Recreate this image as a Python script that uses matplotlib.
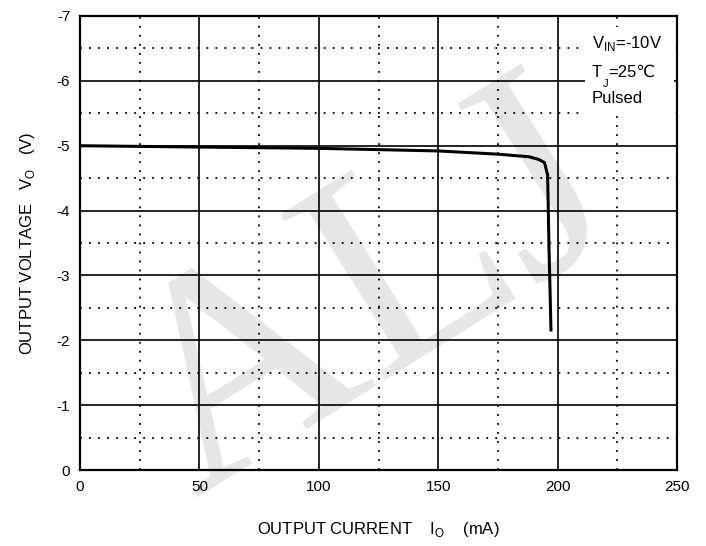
import numpy as np
import matplotlib.pyplot as plt
from matplotlib.ticker import MultipleLocator

plt.rcParams['font.family'] = ['Liberation Sans', 'DejaVu Sans']
plt.rcParams['axes.unicode_minus'] = False

# Data
current_ma = [0, 50, 100, 150, 175, 188, 192, 194.5, 195.8, 196.4, 196.8, 197.2]
voltage_v = [-5.0, -4.98, -4.96, -4.92, -4.87, -4.83, -4.79, -4.74, -4.55, -3.40, -2.80, -2.16]

fig = plt.figure(figsize=(7.06, 5.46), dpi=100)
ax = fig.add_axes([0.1133, 0.139, 0.8457, 0.8317])

# Watermark (behind everything)
fig.text(0.53, 0.45, "ALJ", fontsize=215, family='Liberation Serif', color='#e6e6e6',
         rotation=32, ha='center', va='center', zorder=-1)
ax.set_facecolor('none')

ax.plot(current_ma, voltage_v, color='black', lw=2.2, zorder=3)

ax.set_xlim(0, 250)
ax.set_ylim(0, -7)
ax.xaxis.set_major_locator(MultipleLocator(50))
ax.xaxis.set_minor_locator(MultipleLocator(25))
ax.yaxis.set_major_locator(MultipleLocator(1))
ax.yaxis.set_minor_locator(MultipleLocator(0.5))
ax.grid(which='major', color='black', lw=1.2)
ax.grid(which='minor', color='black', lw=1.3, linestyle=(0, (1, 4)))
ax.tick_params(which='both', length=0, labelsize=11, pad=7)
for s in ax.spines.values():
    s.set_linewidth(1.6)

ax.set_xlabel(r"OUTPUT CURRENT    I$_\mathregular{O}$    (mA)", fontsize=12, labelpad=19)
ax.set_ylabel(r"OUTPUT VOLTAGE   V$_\mathregular{O}$   (V)", fontsize=12, labelpad=14)

# Condition box
ax.add_patch(plt.Rectangle((0.845, 0.785), 0.15, 0.19, transform=ax.transAxes,
                           facecolor='white', edgecolor='none', zorder=4))
ax.text(0.857, 0.94, r"V$_\mathregular{IN}$=-10V", transform=ax.transAxes,
        fontsize=12, va='center', ha='left', zorder=5)
t1 = ax.text(0.857, 0.876, "T", transform=ax.transAxes,
             fontsize=12, va='center', ha='left', zorder=5)
t2 = ax.annotate("J", xy=(1, 0), xycoords=t1, xytext=(0.5, -3),
                 textcoords='offset points', fontsize=8, va='center', ha='left', zorder=5)
ax.annotate("=25\u2103", xy=(1, 0.5), xycoords=(t2, t1), xytext=(0.3, 0),
            textcoords='offset points', fontsize=12, va='center', ha='left', zorder=5)
ax.text(0.857, 0.818, "Pulsed", transform=ax.transAxes,
        fontsize=12, va='center', ha='left', zorder=5)

plt.savefig("out.png")
